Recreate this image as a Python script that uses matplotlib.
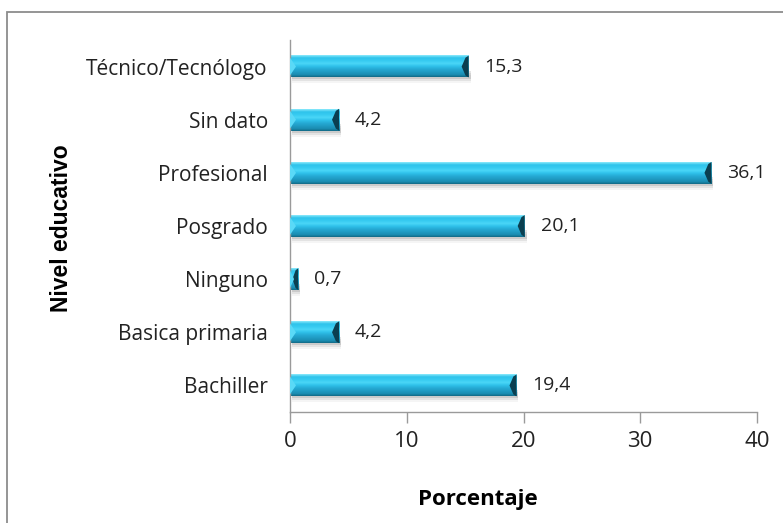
import matplotlib
matplotlib.use("Agg")
import matplotlib.pyplot as plt
import numpy as np
from matplotlib.patches import Rectangle, Polygon
from matplotlib.colors import LinearSegmentedColormap

categories = ["Bachiller", "Basica primaria", "Ninguno", "Posgrado",
              "Profesional", "Sin dato", "Técnico/Tecnólogo"]
values = [19.4, 4.2, 0.7, 20.1, 36.1, 4.2, 15.3]
value_labels = ["19,4", "4,2", "0,7", "20,1", "36,1", "4,2", "15,3"]
xticks = [0, 10, 20, 30, 40]

W, H = 783, 523
fig = plt.figure(figsize=(W / 100, H / 100), dpi=100)
fig.patch.set_facecolor("white")

# outer frame
fig.patches.append(Rectangle((7 / W, -0.05), 1.2, 1 - 12 / H + 0.05,
                             transform=fig.transFigure, fill=False,
                             edgecolor="#8c8c8c", linewidth=1.3))

ax = fig.add_axes([290 / W, 1 - 412 / H, (757 - 290) / W, (412 - 40) / H])
ax.set_xlim(0, 40)
ax.set_ylim(-0.5, len(categories) - 0.5)

cmap = LinearSegmentedColormap.from_list(
    "bar", [(0.0, "#126a86"), (0.1, "#1a8db2"), (0.35, "#25a9d3"),
            (0.5, "#30c3eb"), (0.62, "#4ad6f7"), (0.75, "#36cbf1"),
            (0.88, "#2fc3eb"), (1.0, "#8ceafc")])
grad = np.linspace(0, 1, 64).reshape(-1, 1)

bh = 0.41
px = 40 / (757 - 290)          # data units per pixel in x
py = (len(categories)) / (412 - 40)  # data units per pixel in y
for i, v in enumerate(values):
    y0, y1 = i - bh / 2, i + bh / 2
    mid = i
    # soft shadow
    for k, a in enumerate([0.10, 0.07, 0.04]):
        ax.add_patch(Rectangle((2 * px, y0 - (k + 1) * 2 * py), v, 2 * py + bh * 0.3,
                               facecolor="#000000", alpha=a, edgecolor="none", zorder=1))
    ax.imshow(grad, extent=[0, v, y0, y1], origin="lower",
              cmap=cmap, aspect="auto", zorder=2, interpolation="bilinear")
    # bevel at right end
    bw = min(7 * px, v * 0.7)
    ax.add_patch(Polygon([[v - bw, mid], [v - bw * 0.45, y1 - 2 * py], [v, y1],
                          [v, y0], [v - bw * 0.45, y0 + 2 * py]],
                         closed=True, facecolor="#0b3f50", edgecolor="none", zorder=3))
    # light bevel at left end
    lw = min(6 * px, v * 0.5)
    ax.add_patch(Polygon([[0, y0 + 2 * py], [lw, mid], [0, y1 - 2 * py]],
                         closed=True, facecolor="#5ad9f7", edgecolor="none", zorder=3))
    ax.text(v + 16 * px, i, value_labels[i], va="center", ha="left",
            fontsize=14, family="Open Sans", color="#222222")

ax.set_yticks(range(len(categories)))
ax.set_yticklabels(categories, fontsize=15, family="Open Sans", color="#222222")
ax.tick_params(axis="y", length=0, pad=16)
ax.set_xticks(xticks)
ax.set_xticklabels([str(t) for t in xticks], fontsize=16, family="Open Sans", color="#222222")
ax.tick_params(axis="x", length=8, width=1, color="#9a9a9a", pad=6)

for s in ["top", "right"]:
    ax.spines[s].set_visible(False)
for s in ["left", "bottom"]:
    ax.spines[s].set_color("#9a9a9a")
    ax.spines[s].set_linewidth(1)

fig.text(61 / W, 1 - 228 / H, "Nivel educativo", rotation=90, ha="center", va="center",
         fontsize=16.5, fontweight="bold", family="Liberation Sans")
fig.text(478 / W, 1 - 500 / H, "Porcentaje", ha="center", va="center",
         fontsize=16, fontweight="bold", family="Open Sans")

fig.savefig("out.png", dpi=100)
